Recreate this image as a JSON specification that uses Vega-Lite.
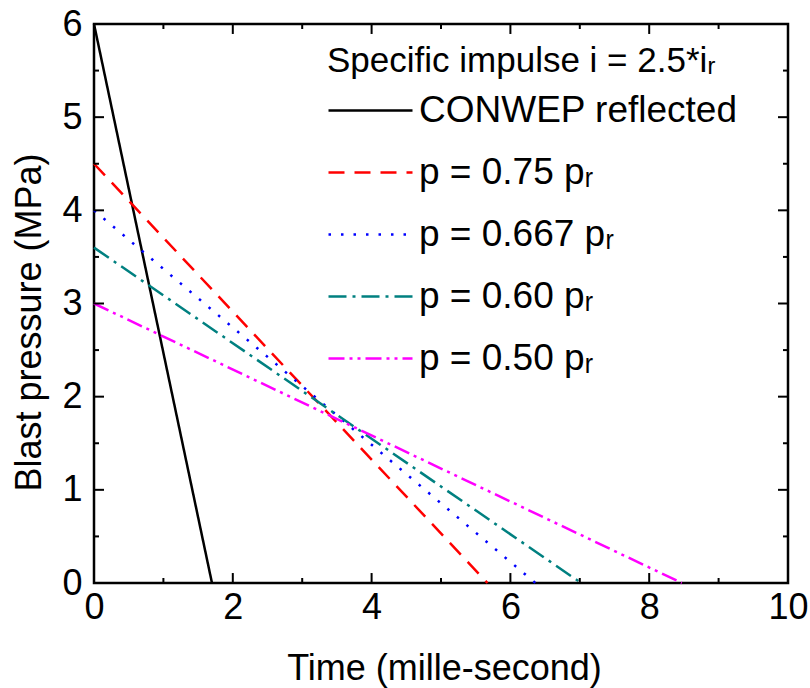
{
  "$schema": "https://vega.github.io/schema/vega-lite/v6.json",
  "width": 694,
  "height": 559,
  "autosize": "none",
  "padding": {"left": 94, "top": 24, "right": 22, "bottom": 105},
  "config": {
    "font": "Liberation Sans",
    "view": {"stroke": "black", "strokeWidth": 2.5},
    "axis": {"domain": false, "grid": false, "ticks": false, "tickSize": 0, "labelColor": "black", "titleColor": "black", "labelFontSize": 36, "titleFontSize": 36, "titleFontWeight": "normal", "titleLimit": 1000, "labelFlush": false},
    "rule": {"color": "black", "strokeWidth": 2, "opacity": 1}
  },
  "datasets": {
    "curves": [
      {"series": "CONWEP reflected", "t": 0, "p": 6},
      {"series": "CONWEP reflected", "t": 1.7, "p": 0},
      {"series": "p = 0.75 pᵣ", "t": 0, "p": 4.5},
      {"series": "p = 0.75 pᵣ", "t": 5.67, "p": 0},
      {"series": "p = 0.667 pᵣ", "t": 0, "p": 4.0},
      {"series": "p = 0.667 pᵣ", "t": 6.36, "p": 0},
      {"series": "p = 0.60 pᵣ", "t": 0, "p": 3.6},
      {"series": "p = 0.60 pᵣ", "t": 7.02, "p": 0},
      {"series": "p = 0.50 pᵣ", "t": 0, "p": 3.0},
      {"series": "p = 0.50 pᵣ", "t": 8.47, "p": 0}
    ],
    "xMajor": [{"v": 2}, {"v": 4}, {"v": 6}, {"v": 8}],
    "xMinor": [{"v": 1}, {"v": 3}, {"v": 5}, {"v": 7}, {"v": 9}],
    "yMajor": [{"v": 1}, {"v": 2}, {"v": 3}, {"v": 4}, {"v": 5}],
    "yMinor": [{"v": 0.5}, {"v": 1.5}, {"v": 2.5}, {"v": 3.5}, {"v": 4.5}, {"v": 5.5}]
  },
  "layer": [
    {
      "data": {"name": "curves"},
      "mark": {"type": "line", "strokeWidth": 2.5},
      "encoding": {
        "x": {"field": "t", "type": "quantitative", "scale": {"domain": [0, 10], "nice": false, "zero": false},
          "axis": {"orient": "bottom", "title": "Time (mille-second)", "values": [0,2,4,6,8,10], "format": ".0f",
            "labelPadding": 7, "titleX": 350, "titleY": 96, "titleBaseline": "alphabetic"}},
        "y": {"field": "p", "type": "quantitative", "scale": {"domain": [0, 6], "nice": false},
          "axis": {"orient": "left", "title": "Blast pressure (MPa)", "values": [0,1,2,3,4,5,6], "format": ".0f",
            "labelPadding": 12, "titleX": -54, "titleY": 298, "titleAngle": -90, "titleAlign": "center", "titleBaseline": "alphabetic"}},
        "color": {"field": "series", "type": "nominal",
          "scale": {"domain": ["CONWEP reflected", "p = 0.75 pᵣ", "p = 0.667 pᵣ", "p = 0.60 pᵣ", "p = 0.50 pᵣ"],
            "range": ["#000000", "#ff0000", "#0000ff", "#008080", "#ff00ff"]},
          "legend": {"orient": "none", "legendX": 233, "legendY": 20, "title": "Specific impulse i = 2.5*iᵣ",
            "titleFontSize": 35, "titleFontWeight": "normal", "titleColor": "black", "labelFontSize": 37, "labelColor": "black",
            "symbolSize": 7056, "symbolStrokeWidth": 2.5, "symbolType": "stroke", "labelOffset": 5, "rowPadding": -35,
            "titlePadding": -12, "labelLimit": 500, "titleLimit": 700}},
        "strokeDash": {"field": "series", "type": "nominal",
          "scale": {"domain": ["CONWEP reflected", "p = 0.75 pᵣ", "p = 0.667 pᵣ", "p = 0.60 pᵣ", "p = 0.50 pᵣ"],
            "range": [[1, 0], [16, 10], [2.5, 10], [18, 6, 3, 6], [16, 5, 3, 5, 3, 5]]},
          "legend": {"orient": "none", "legendX": 233, "legendY": 20, "title": "Specific impulse i = 2.5*iᵣ",
            "titleFontSize": 35, "titleFontWeight": "normal", "titleColor": "black", "labelFontSize": 37, "labelColor": "black",
            "symbolSize": 7056, "symbolStrokeWidth": 2.5, "symbolType": "stroke", "labelOffset": 5, "rowPadding": -35,
            "titlePadding": -12, "labelLimit": 500, "titleLimit": 700}}
      }
    },
    {
      "data": {"name": "xMajor"},
      "mark": {"type": "rule", "color": "black", "strokeWidth": 2},
      "encoding": {"x": {"field": "v", "type": "quantitative"}, "y": {"datum": 0, "type": "quantitative"}, "y2": {"datum": 0.107}}
    },
    {
      "data": {"name": "xMajor"},
      "mark": {"type": "rule", "color": "black", "strokeWidth": 2},
      "encoding": {"x": {"field": "v", "type": "quantitative"}, "y": {"datum": 6, "type": "quantitative"}, "y2": {"datum": 5.893}}
    },
    {
      "data": {"name": "xMinor"},
      "mark": {"type": "rule", "color": "black", "strokeWidth": 2},
      "encoding": {"x": {"field": "v", "type": "quantitative"}, "y": {"datum": 0, "type": "quantitative"}, "y2": {"datum": 0.054}}
    },
    {
      "data": {"name": "xMinor"},
      "mark": {"type": "rule", "color": "black", "strokeWidth": 2},
      "encoding": {"x": {"field": "v", "type": "quantitative"}, "y": {"datum": 6, "type": "quantitative"}, "y2": {"datum": 5.946}}
    },
    {
      "data": {"name": "yMajor"},
      "mark": {"type": "rule", "color": "black", "strokeWidth": 2},
      "encoding": {"y": {"field": "v", "type": "quantitative"}, "x": {"datum": 0, "type": "quantitative"}, "x2": {"datum": 0.144}}
    },
    {
      "data": {"name": "yMajor"},
      "mark": {"type": "rule", "color": "black", "strokeWidth": 2},
      "encoding": {"y": {"field": "v", "type": "quantitative"}, "x": {"datum": 10, "type": "quantitative"}, "x2": {"datum": 9.856}}
    },
    {
      "data": {"name": "yMinor"},
      "mark": {"type": "rule", "color": "black", "strokeWidth": 2},
      "encoding": {"y": {"field": "v", "type": "quantitative"}, "x": {"datum": 0, "type": "quantitative"}, "x2": {"datum": 0.072}}
    },
    {
      "data": {"name": "yMinor"},
      "mark": {"type": "rule", "color": "black", "strokeWidth": 2},
      "encoding": {"y": {"field": "v", "type": "quantitative"}, "x": {"datum": 10, "type": "quantitative"}, "x2": {"datum": 9.928}}
    }
  ]
}
